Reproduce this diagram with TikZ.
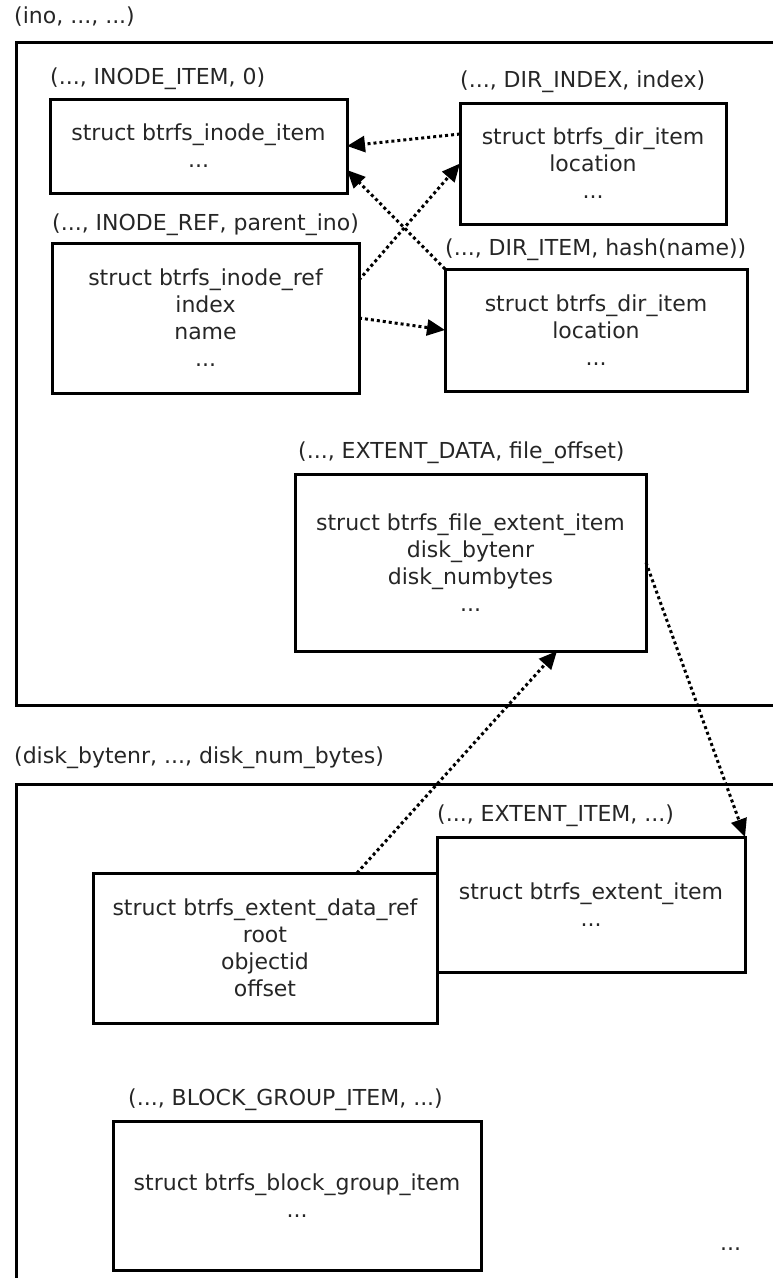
\documentclass[tikz,border=0pt]{standalone}
\usepackage{fontspec}
\setmainfont{DejaVu Sans}
\usetikzlibrary{arrows.meta}

\begin{document}
\begin{tikzpicture}[x=1pt,y=-1pt,
  txt/.style={font=\fontsize{22}{27}\selectfont, text=black!85},
  item/.style={txt, draw=black, line width=3pt, align=center, inner sep=0pt, outer sep=0pt},
  keylabel/.style={txt, anchor=base west, inner sep=0pt},
  frame/.style={draw=black, line width=3pt},
  ref/.style={line width=3pt, dash pattern=on 3pt off 3pt,
    -{Triangle[length=18pt,width=16pt]}}
]
\useasboundingbox (0,0) rectangle (773,1278);

% ---- fs tree: items of one inode ----
\node[keylabel] (fstitle) at (14,23) {(ino, ..., ...)};
\draw[frame] (790,42) -- (16,42) -- (16,705) -- (790,705);

\node[item, minimum width=297, minimum height=94] (ii) at (198.5,146)
  {struct btrfs\_inode\_item\\...};
\node[keylabel] (iil) at (50,84) {(..., INODE\_ITEM, 0)};

\node[item, minimum width=266, minimum height=121] (di) at (593,163.5)
  {struct btrfs\_dir\_item\\location\\...};
\node[keylabel] (dil) at (460,87) {(..., DIR\_INDEX, index)};

\node[item, minimum width=307, minimum height=150] (ir) at (205.5,318)
  {struct btrfs\_inode\_ref\\index\\name\\...};
\node[keylabel] (irl) at (52,230) {(..., INODE\_REF, parent\_ino)};

\node[item, minimum width=302, minimum height=122] (dm) at (596,330)
  {struct btrfs\_dir\_item\\location\\...};
\node[keylabel] (dml) at (445,255) {(..., DIR\_ITEM, hash(name))};

\node[item, minimum width=351, minimum height=177] (ed) at (470.5,562.5)
  {struct btrfs\_file\_extent\_item\\disk\_bytenr\\disk\_numbytes\\...};
\node[keylabel] (edl) at (298,458) {(..., EXTENT\_DATA, file\_offset)};

% ---- extent tree ----
\node[keylabel] (extitle) at (14,763) {(disk\_bytenr, ..., disk\_num\_bytes)};
\draw[frame] (790,784) -- (16,784) -- (16,1290);

\node[item, minimum width=308, minimum height=135] (ei) at (591,904.5)
  {struct btrfs\_extent\_item\\...};
\node[keylabel] (eil) at (437,821) {(..., EXTENT\_ITEM, ...)};

\node[item, minimum width=344, minimum height=150] (edr) at (265,948)
  {struct btrfs\_extent\_data\_ref\\root\\objectid\\offset};

\node[item, minimum width=368, minimum height=149] (bg) at (297,1195.5)
  {struct btrfs\_block\_group\_item\\...};
\node[keylabel] (bgl) at (128,1105) {(..., BLOCK\_GROUP\_ITEM, ...)};

\node[keylabel] (more) at (720,1250) {...};

% ---- references between items ----
\draw[ref] ([yshift=29.5pt]di.west) -- (ii.east);
\draw[ref] (dm.north west) -- ([yshift=-24pt]ii.east);
\draw[ref] ([yshift=38pt]ir.east) -- (di.west);
\draw[ref] (ir.east) -- (dm.west);
\draw[ref] ([xshift=92pt]edr.north) -- ([xshift=86.5pt]ed.south);
\draw[ref] (ed.east) -- (ei.north east);
\end{tikzpicture}
\end{document}
